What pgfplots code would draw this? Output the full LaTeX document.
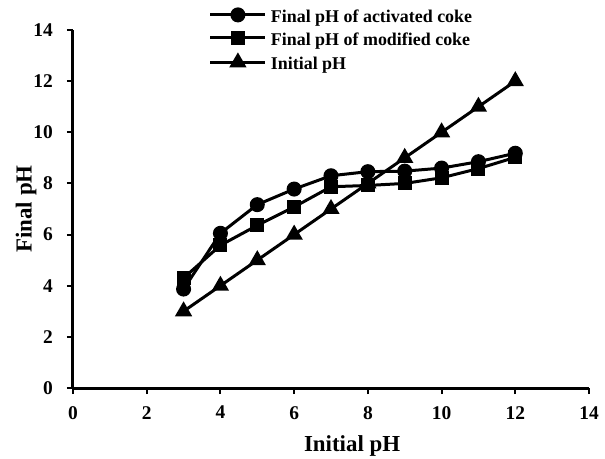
\documentclass[border=0pt]{standalone}
\usepackage{fontspec}
\setmainfont{Liberation Serif}
\usepackage{pgfplots}
\pgfplotsset{compat=1.18}
\newcommand{\tl}{\bfseries\fontsize{19.5}{19.5}\selectfont}
\begin{document}
\begin{tikzpicture}
\useasboundingbox (-73bp,-71bp) rectangle (532bp,388bp);
\begin{axis}[
  at={(0,0)}, anchor=south west,
  scale only axis,
  width=516bp, height=358bp,
  xmin=0, xmax=14, ymin=0, ymax=14,
  xtick={0,2,...,14}, ytick={0,2,...,14},
  xticklabels={{\tl 0},{\tl 2},{\tl 4},{\tl 6},{\tl 8},{\tl 10},{\tl 12},{\tl 14}},
  yticklabels={{\tl 0},{\tl 2},{\tl 4},{\tl 6},{\tl 8},{\tl 10},{\tl 12},{\tl 14}},
  axis x line=bottom, axis y line=left,
  axis line style={line width=3bp, -},
  tick align=outside,
  major tick length=6bp,
  tick style={line width=2bp, black},
  yticklabel style={inner sep=0pt, xshift=-14bp},
  xticklabel style={inner sep=0pt, yshift=-12bp},
  xlabel={Initial pH}, ylabel={Final pH},
  label style={font=\bfseries\fontsize{23}{23}\selectfont},
  xlabel style={at={(axis description cs:0.541,-0.177)}, anchor=base},
  ylabel style={at={(axis description cs:-0.0804,0.5)}, anchor=base, rotate=0},
  legend style={draw=none, fill=none, inner sep=0pt, row sep=0pt, column sep=4bp,
    at={(axis description cs:0.263,1.0595)}, anchor=north west,
    font=\bfseries\fontsize{18}{18}\selectfont,
    nodes={inner sep=0pt, text height=13bp, text depth=10bp}},
  legend cell align=left,
  legend image code/.code={\draw[mark repeat=2, mark phase=2, #1] plot coordinates {(0bp,6bp) (27.5bp,6bp) (55bp,6bp)};},
  every axis plot/.append style={line width=3bp, black},
  clip=false,
]
\addplot[mark=*, mark size=6bp, mark options={solid, fill=black}] coordinates {
(3,3.87)(4,6.05)(5,7.17)(6,7.78)(7,8.3)(8,8.46)(9,8.48)(10,8.6)(11,8.85)(12,9.18)};
\addlegendentry{Final pH of activated coke}
\addplot[mark=square*, mark size=5.5bp, mark options={solid, fill=black}] coordinates {
(3,4.3)(4,5.58)(5,6.36)(6,7.08)(7,7.87)(8,7.92)(9,8.0)(10,8.22)(11,8.58)(12,9.02)};
\addlegendentry{Final pH of modified coke}
\addplot[mark=triangle*, mark size=7bp, mark options={solid, fill=black}] coordinates {
(3,3)(4,4)(5,5)(6,6)(7,7)(8,8)(9,9)(10,10)(11,11)(12,12)};
\addlegendentry{Initial pH}
\end{axis}
\end{tikzpicture}
\end{document}
